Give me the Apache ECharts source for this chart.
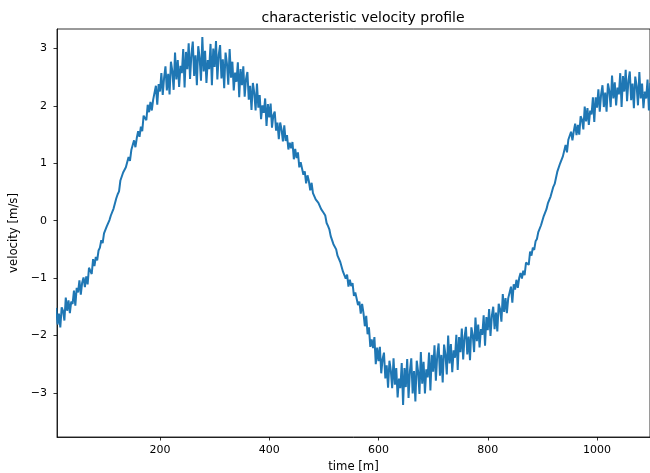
<!DOCTYPE html>
<html>
<head>
<meta charset="utf-8">
<script src="https://cdn.jsdelivr.net/npm/echarts@6/dist/echarts.min.js"></script>
<style>html,body{margin:0;padding:0;background:#fff}#c{width:650px;height:473px}</style>
</head>
<body>
<div id="c"></div>
<script>
// sampling grid of the time axis (start and step of the recorded samples)
const timeStart = 10;
const timeStep = 2.5;
// velocity readings [m/s], one per sample
const velocity = [
-1.52,-1.81,-1.62,-1.86, -1.51,-1.57,-1.74,-1.34, -1.57,-1.39,-1.61,-1.41,
-1.45,-1.22,-1.48,-1.17, -1.25,-1.04,-1.29,-1.08, -0.99,-1.16,-0.97,-1.11,
-0.82,-0.84,-0.93,-0.67, -0.79,-0.63,-0.69,-0.52, -0.47,-0.34,-0.39,-0.22,
-0.21,-0.10,-0.11,0.01, 0.09,0.11,0.21,0.24, 0.39,0.46,0.51,0.70,
0.73,0.84,0.82,0.93, 0.96,1.11,1.04,1.23, 1.23,1.40,1.28,1.44,
1.56,1.46,1.64,1.56, 1.83,1.82,1.75,2.02, 1.89,2.07,1.92,2.11,
2.09,2.35,2.02,2.38, 2.25,2.57,2.19,2.49, 2.69,2.27,2.56,2.20,
2.77,2.61,2.28,2.93, 2.46,2.80,2.33,2.70, 2.57,2.99,2.32,2.94,
2.64,3.09,2.47,2.90, 3.12,2.52,2.88,2.36, 3.04,2.84,2.44,3.20,
2.60,2.96,2.40,2.80, 2.64,3.08,2.36,3.00, 2.68,3.13,2.46,2.89,
3.06,2.48,2.81,2.31, 2.93,2.74,2.37,2.99, 2.49,2.77,2.27,2.58,
2.42,2.76,2.15,2.64, 2.36,2.69,2.16,2.47, 2.59,2.11,2.35,1.93,
2.40,2.23,1.92,2.39, 1.97,2.19,1.77,2.01, 1.88,2.13,1.65,2.03,
1.80,2.04,1.62,1.84, 1.90,1.57,1.71,1.42, 1.71,1.59,1.38,1.66,
1.39,1.49,1.24,1.36, 1.26,1.37,1.07,1.25, 1.09,1.19,0.93,1.02,
1.03,0.80,0.86,0.65, 0.79,0.69,0.53,0.66, 0.48,0.48,0.37,0.38,
0.31,0.30,0.20,0.21, 0.13,0.09,-0.04,-0.09, -0.15,-0.27,-0.30,-0.41,
-0.42,-0.50,-0.61,-0.60, -0.72,-0.74,-0.89,-0.90, -1.01,-0.94,-1.15,-1.03,
-1.14,-1.09,-1.31,-1.25, -1.24,-1.47,-1.41,-1.62, -1.45,-1.61,-1.84,-1.66,
-1.98,-1.86,-2.20,-2.07, -2.22,-2.03,-2.50,-2.21, -2.45,-2.20,-2.66,-2.41,
-2.30,-2.75,-2.52,-2.91, -2.44,-2.61,-2.92,-2.40, -2.86,-2.57,-3.08,-2.75,
-2.92,-2.48,-3.21,-2.57, -2.90,-2.41,-3.09,-2.62, -2.40,-3.01,-2.62,-3.15,
-2.44,-2.63,-3.02,-2.29, -2.84,-2.46,-3.01,-2.59, -2.73,-2.30,-2.96,-2.34,
-2.63,-2.17,-2.79,-2.35, -2.14,-2.70,-2.34,-2.82, -2.16,-2.33,-2.68,-2.00,
-2.49,-2.15,-2.64,-2.26, -2.39,-1.99,-2.60,-2.03, -2.29,-1.88,-2.42,-2.03,
-1.85,-2.33,-2.02,-2.43, -1.86,-1.99,-2.29,-1.69, -2.10,-1.81,-2.21,-1.89,
-1.99,-1.65,-2.18,-1.68, -1.91,-1.54,-2.01,-1.66, -1.50,-1.89,-1.60,-1.93,
-1.45,-1.54,-1.76,-1.28, -1.59,-1.35,-1.61,-1.35, -1.37,-1.15,-1.43,-1.11,
-1.20,-1.03,-1.17,-1.00, -0.91,-1.01,-0.87,-0.95, -0.73,-0.73,-0.77,-0.54,
-0.61,-0.47,-0.51,-0.36, -0.32,-0.20,-0.22,-0.08, -0.06,0.08,0.06,0.20,
0.30,0.30,0.42,0.43, 0.59,0.64,0.67,0.86, 0.85,1.00,0.97,1.12,
1.15,1.32,1.19,1.41, 1.38,1.55,1.40,1.56, 1.69,1.49,1.67,1.50,
1.82,1.76,1.59,1.99, 1.73,1.96,1.67,1.92, 1.85,2.15,1.72,2.15,
1.97,2.29,1.90,2.20, 2.36,1.98,2.23,1.90, 2.39,2.26,1.98,2.53,
2.13,2.41,2.01,2.32, 2.20,2.57,1.98,2.52, 2.25,2.63,2.08,2.44,
2.60,2.10,2.39,1.96, 2.51,2.35,2.01,2.59, 2.13,2.39,1.96,2.25,
2.13,2.46,1.92,2.40, 2.16,2.51,2.02,2.36, 2.10
];
const xTicks = [200, 400, 600, 800, 1000];
const yTicks = [-3, -2, -1, 0, 1, 2, 3];

const points = velocity.map((v, i) => [timeStart + i * timeStep, v]);
const fmtNum = v => (v < 0 ? '\u2212' + Math.abs(v) : String(v));
const FONT = 'DejaVu Sans';

const chart = echarts.init(document.getElementById('c'), null, {renderer: 'canvas'});
chart.setOption({
  animation: false,
  backgroundColor: '#fff',
  title: {
    text: 'characteristic velocity profile',
    left: 358, top: 6, textAlign: 'center',
    textStyle: {fontFamily: FONT, fontSize: 14, fontWeight: 'normal', color: '#000'}
  },
  grid: {left: 57, top: 29, right: 0, bottom: 36, show: true,
         containLabel: false, outerBoundsMode: 'none',
         borderColor: '#000', borderWidth: 0.8, backgroundColor: 'transparent'},
  xAxis: {
    type: 'value', min: 11.44, max: 1097,
    name: 'time [m]', nameLocation: 'middle', nameGap: 24,
    nameTextStyle: {fontFamily: FONT, fontSize: 11.7, color: '#000'},
    splitLine: {show: false},
    axisLine: {show: true, onZero: false, lineStyle: {color: '#000', width: 0.8}},
    axisTick: {show: true, length: 3.5, lineStyle: {color: '#000', width: 0.8},
               customValues: xTicks},
    axisLabel: {fontFamily: FONT, fontSize: 11, color: '#000', margin: 8,
                customValues: xTicks, formatter: fmtNum}
  },
  yAxis: {
    type: 'value', min: -3.77, max: 3.34,
    name: 'velocity [m/s]', nameLocation: 'middle', nameGap: 26,
    nameTextStyle: {fontFamily: FONT, fontSize: 11.7, color: '#000'},
    splitLine: {show: false},
    axisLine: {show: true, onZero: false, lineStyle: {color: '#000', width: 0.8}},
    axisTick: {show: true, length: 3.5, lineStyle: {color: '#000', width: 0.8},
               customValues: yTicks},
    axisLabel: {fontFamily: FONT, fontSize: 11, color: '#000', margin: 10,
                customValues: yTicks, formatter: fmtNum}
  },
  series: [{
    type: 'line', data: points, showSymbol: false, sampling: null,
    lineStyle: {color: '#1f77b4', width: 2}, z: 3, clip: true
  }]
});
</script>
</body>
</html>
